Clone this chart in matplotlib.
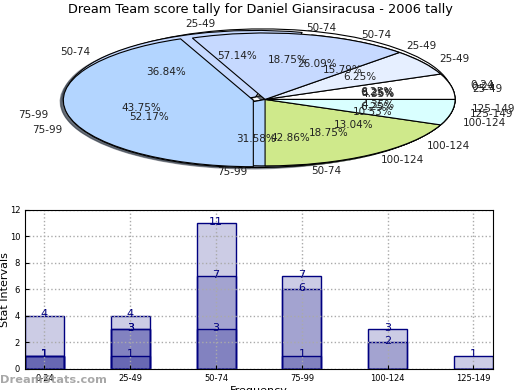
import numpy as np
import matplotlib.pyplot as plt

# pie data: four tallies drawn on top of each other
pie1_labels = ['0-24', '25-49', '50-74', '75-99', '100-124']
pie1_values = [1, 3, 7, 6, 2]
pie2_labels = ['25-49', '50-74']
pie2_values = [4, 3]
pie3_labels = ['25-49', '50-74', '75-99', '100-124', '125-149']
pie3_values = [1, 6, 12, 3, 1]
pie4_labels = ['0-24', '25-49', '50-74', '75-99', '100-124', '125-149']
pie4_values = [1, 1, 3, 7, 3, 1]

# bar data: four overlaid series
intervals = ['0-24', '25-49', '50-74', '75-99', '100-124', '125-149']
bars1 = [1, 3, 7, 6, 2, 0]
bars2 = [1, 1, 3, 7, 3, 1]
bars3 = [1, 3, 0, 0, 0, 0]
bars4 = [4, 4, 11, 1, 0, 0]

pie_colors = ['#ffffff', '#e6efff', '#c6d9ff', '#b3d5ff', '#cfe98b', '#d9ffff']

fig = plt.figure(figsize=(5.2, 3.9), dpi=100)
fig.text(0.5, 1 - 10 / 390, 'Dream Team score tally for Daniel Giansiracusa - 2006 tally',
         ha='center', va='center', fontsize=9.3)

# %% pie
ax1 = fig.add_axes([0.053, 0.532, 0.9135, 0.426])
pies = [(pie3_labels, pie3_values), (pie2_labels, pie2_values),
        (pie1_labels, pie1_values), (pie4_labels, pie4_values)]
for labels, values in pies:
    explode = [0.063 if v == max(values) else 0 for v in values]
    ax1.pie(values, labels=labels, colors=pie_colors, explode=explode,
            autopct='%.2f%%', shadow={'ox': -0.012, 'oy': -0.015}, startangle=0,
            wedgeprops={'edgecolor': 'black', 'linewidth': 0.8},
            textprops={'fontsize': 7.5, 'color': '#222222'})
ax1.set_aspect('auto')
ax1.set_xlim(-1.25, 1.25)
ax1.set_ylim(-1.25, 1.25)

# %% bars
ax2 = fig.add_axes([0.048, 0.054, 0.9, 0.408])
x = np.arange(len(intervals))
for vals in [bars1, bars2, bars3, bars4]:
    ax2.bar(x, vals, width=0.455, color=(0, 0, 0.5, 0.2), edgecolor='navy', linewidth=1)
    for xi, v in zip(x, vals):
        if v:
            ax2.annotate(str(v), (xi, v), xytext=(0, -2.5), textcoords='offset points',
                         ha='center', va='bottom', color='navy', fontsize=8)

ax2.set_xlim(-0.227, 5.227)
ax2.set_ylim(0, 12)
ax2.set_xticks(x, intervals)
ax2.set_yticks(range(0, 13, 2))
ax2.tick_params(labelsize=6, direction='in', length=3)
ax2.grid(True, linestyle=':', color='#aaaaaa', linewidth=1)
ax2.set_ylabel('Stat Intervals', fontsize=8)
ax2.yaxis.set_label_coords(-0.033, 0.5)
ax2.set_xlabel('Frequency', fontsize=8, labelpad=2)

fig.text(0.0, 0.025, 'DreamStats.com', fontsize=8.2, fontweight='bold', color='#999999',
         alpha=0.85, va='center')

fig.savefig('out.png', dpi=100)
